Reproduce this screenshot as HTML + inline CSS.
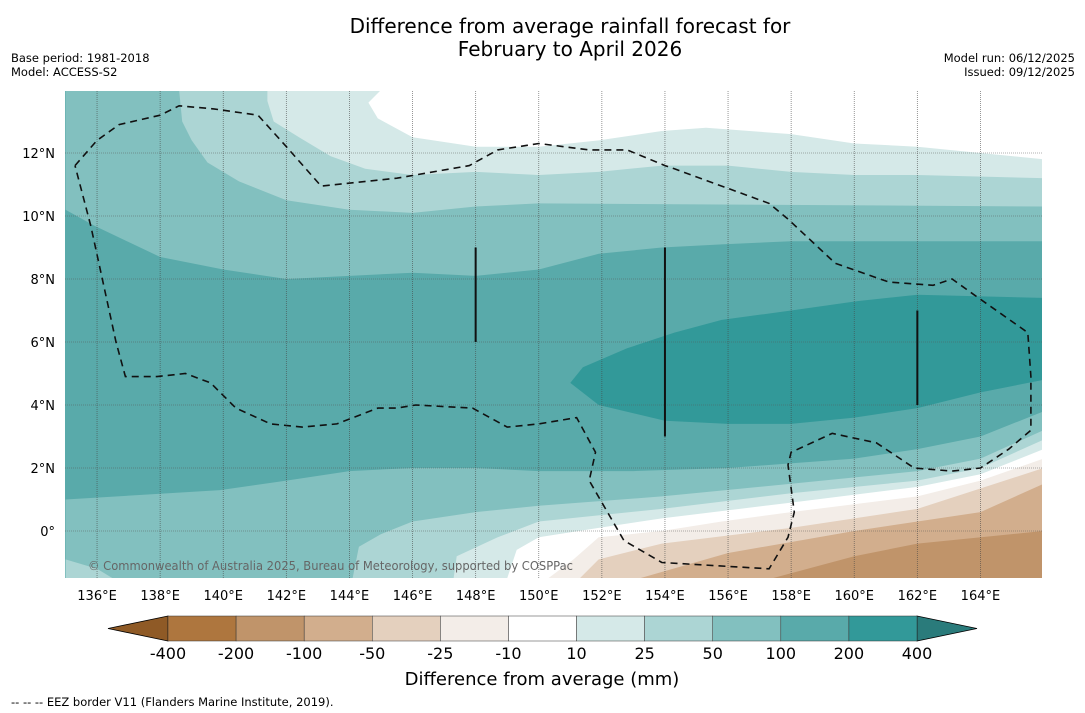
<!DOCTYPE html>
<html><head><meta charset="utf-8">
<style>
body{margin:0;background:#fff;font-family:"Liberation Sans","DejaVu Sans",sans-serif;}
#wrap{position:relative;width:1085px;height:713px;overflow:hidden;background:#fff;}
.t{position:absolute;white-space:nowrap;color:#000;}
</style></head>
<body>
<div id="wrap">
<div class="t" style="left:0;width:1140px;top:15px;text-align:center;font-family:'DejaVu Sans',sans-serif;font-size:20px;line-height:23px;">Difference from average rainfall forecast for<br>February to April 2026</div>
<div class="t" style="left:11px;top:51px;font-family:'DejaVu Sans',sans-serif;font-size:11.5px;line-height:14px;">Base period: 1981-2018<br>Model: ACCESS-S2</div>
<div class="t" style="right:10px;top:51px;text-align:right;font-family:'DejaVu Sans',sans-serif;font-size:11.5px;line-height:14px;">Model run: 06/12/2025<br>Issued: 09/12/2025</div>
<svg id="chart" width="1085" height="713" style="position:absolute;left:0;top:0"></svg>
<div class="t" style="left:11px;top:695px;font-family:'DejaVu Sans',sans-serif;font-size:11.5px;">--  --  -- EEZ border V11 (Flanders Marine Institute, 2019).</div>
</div>
<script>
// ---- data ----
const lonTicks=[136,138,140,142,144,146,148,150,152,154,156,158,160,162,164];
const latTicks=[0,2,4,6,8,10,12];
const latTickLabels=["0°","2°N","4°N","6°N","8°N","10°N","12°N"];
const cbLevels=["-400","-200","-100","-50","-25","-10","10","25","50","100","200","400"];
const cbColors=["#ae763e","#c0946a","#d2ae8d","#e4d0be","#f3ede8","#ffffff","#d5e9e8","#acd5d4","#82c0bf","#59aaaa","#329999"];
const baseColor="#59aaaa";
const north50=[[135,14],[135,10.2],[135.9,9.7],[138,8.7],[140,8.3],[142,8.0],[144,8.1],[146,8.2],[148,8.1],[150,8.3],[151.9,8.8],[153.9,9.0],[155.8,9.1],[158,9.2],[166,9.2],[166,14]];
const north25=[[138.6,14],[138.7,13.0],[139.0,12.4],[139.5,11.7],[140.5,11.1],[142,10.5],[144,10.2],[146,10.1],[148,10.3],[150,10.4],[166,10.3],[166,14]];
const north10=[[141.4,14],[141.4,13.65],[141.6,13.0],[142.4,12.5],[143.4,11.9],[144.5,11.5],[146,11.3],[148,11.4],[150,11.3],[151.9,11.4],[153.9,11.6],[156,11.6],[158,11.4],[160,11.3],[162,11.3],[166,11.2],[166,14]];
const northWhite=[[145,14],[144.6,13.6],[144.9,13.1],[146,12.5],[148,12.2],[150,12.2],[151.9,12.4],[153.9,12.7],[155.3,12.8],[158,12.6],[160,12.3],[162,12.2],[166,11.8],[166,14]];
const blob200=[[151.0,4.7],[151.4,5.2],[152.8,5.8],[154.3,6.3],[155.8,6.7],[158,7.0],[160.1,7.3],[162,7.5],[166,7.4],[166,4.8],[164,4.4],[162,3.9],[160,3.6],[158,3.4],[156,3.4],[154,3.5],[151.9,4.0]];
const south50=[[135,1.0],[139.9,1.3],[142,1.6],[144,1.9],[146,2.0],[148,2.0],[150,1.9],[153,1.9],[156,2.0],[160,2.3],[162,2.6],[164,3.0],[166,3.8],[166,-1.5],[135,-1.5]];
const south25=[[144.1,-1.5],[144.3,-0.5],[145.0,-0.1],[146,0.3],[148,0.6],[150,0.8],[153.9,1.1],[158,1.5],[162,1.9],[164,2.3],[166,3.2],[166,-1.5]];
const south25corner=[[135,-0.9],[136,-1.2],[136.5,-1.5],[135,-1.5]];
const south10=[[147.3,-1.5],[147.4,-0.8],[148.7,-0.2],[150,0.3],[153.9,0.7],[158,1.2],[162,1.6],[164,2.0],[166,2.9],[166,-1.5]];
const southWhite=[[149.0,-1.5],[149.3,-0.6],[150,-0.2],[151.9,0.1],[153.9,0.4],[158,0.9],[162,1.4],[164,1.8],[166,2.6],[166,-1.5]];
const southM10=[[150.3,-1.5],[151.1,-0.9],[151.9,-0.2],[153.9,0.0],[155.8,0.3],[158,0.6],[162,1.1],[164,1.6],[166,2.3],[166,-1.5]];
const southM25=[[151.3,-1.5],[151.9,-0.9],[153.9,-0.4],[158,0.1],[162,0.7],[166,2.0],[166,-1.5]];
const southM50=[[153.2,-1.5],[156,-0.7],[160,0.0],[164,0.6],[166,1.5],[166,-1.5]];
const southM100=[[157.4,-1.5],[160,-0.8],[162,-0.4],[166,0.0],[166,-1.5]];
const eez=[[135.3,11.6],[136,12.4],[136.7,12.9],[138,13.2],[138.6,13.5],[139.7,13.4],[141.1,13.2],[142,12.2],[143.1,10.95],[145.5,11.2],[147.8,11.6],[148.7,12.1],[150,12.3],[151.6,12.1],[152.8,12.1],[154,11.6],[154.3,11.5],[157.3,10.4],[157.9,9.9],[159.4,8.5],[161.1,7.9],[162.5,7.8],[163.1,8.0],[163.8,7.5],[165.5,6.3],[165.6,4.9],[165.6,3.2],[164.9,2.6],[164,2.0],[163.1,1.9],[161.9,2.0],[160.7,2.8],[159.3,3.1],[158,2.5],[157.9,2.1],[158.1,0.6],[157.9,-0.2],[157.3,-1.2],[153.9,-1.0],[152.7,-0.3],[151.6,1.6],[151.8,2.5],[151.2,3.6],[150,3.4],[149,3.3],[147.9,3.9],[146.1,4.0],[145.5,3.9],[144.9,3.9],[143.6,3.4],[142.5,3.3],[141.5,3.4],[140.4,3.9],[139.6,4.7],[138.8,5.0],[137.9,4.9],[136.9,4.9],[136.6,6.0],[135.8,9.7],[135.3,11.6]];
const trackLines=[[148,9,6],[154,9,3],[162,7,4]];
// ---- axes ----
const X0=65.5,LON0=135,PXD=31.55,Y0=531,PYD=31.5;
const LEFT=65,RIGHT=1042,TOP=91,BOTTOM=578;
function xs(lon){return X0+(lon-LON0)*PXD;}
function ys(lat){return Y0-lat*PYD;}
const NS="http://www.w3.org/2000/svg";
const svg=document.getElementById('chart');
function mk(tag,attrs,parent){const e=document.createElementNS(NS,tag);for(const k in attrs)e.setAttribute(k,attrs[k]);(parent||svg).appendChild(e);return e;}
const defs=mk('defs',{});
const cp=mk('clipPath',{id:'mapclip'},defs);
mk('rect',{x:LEFT,y:TOP,width:RIGHT-LEFT,height:BOTTOM-TOP},cp);
const g=mk('g',{'clip-path':'url(#mapclip)'});


const bg=mk('rect',{x:LEFT,y:TOP,width:RIGHT-LEFT,height:BOTTOM-TOP,fill:baseColor},g);


function poly(pts,fill,name){
  const d=pts.map((p,i)=>(i?'L':'M')+xs(p[0]).toFixed(1)+','+ys(p[1]).toFixed(1)).join('')+'Z';
  const e=mk('path',{d:d,fill:fill},g);
  
  
}
poly(north50,"#82c0bf","band-north-50-100");
poly(north25,"#acd5d4","band-north-25-50");
poly(north10,"#d5e9e8","band-north-10-25");
poly(northWhite,"#ffffff","band-north-neutral");
poly(blob200,"#329999","band-200-400");
poly(south50,"#82c0bf","band-south-50-100");
poly(south25,"#acd5d4","band-south-25-50");
poly(south25corner,"#acd5d4","band-south-25-50-corner");
poly(south10,"#d5e9e8","band-south-10-25");
poly(southWhite,"#ffffff","band-south-neutral");
poly(southM10,"#f3ede8","band-minus-10-25");
poly(southM25,"#e4d0be","band-minus-25-50");
poly(southM50,"#d2ae8d","band-minus-50-100");
poly(southM100,"#c0946a","band-minus-100-200");
// gridlines
lonTicks.forEach(l=>{
  const e=mk('line',{x1:xs(l),x2:xs(l),y1:TOP,y2:BOTTOM,stroke:'#444','stroke-width':0.8,'stroke-dasharray':'1,1','stroke-opacity':0.7},g);
  
  
});
latTicks.forEach(l=>{
  const e=mk('line',{x1:LEFT,x2:RIGHT,y1:ys(l),y2:ys(l),stroke:'#555','stroke-width':0.8,'stroke-dasharray':'1,1','stroke-opacity':0.6},g);
  
  
});
// track lines
trackLines.forEach(t=>{
  const e=mk('line',{x1:xs(t[0]),x2:xs(t[0]),y1:ys(t[1]),y2:ys(t[2]),stroke:'#111','stroke-width':2},g);
  
  
});
// eez
const ed=eez.map((p,i)=>(i?'L':'M')+xs(p[0]).toFixed(1)+','+ys(p[1]).toFixed(1)).join('');
const eezEl=mk('path',{d:ed,fill:'none',stroke:'#111','stroke-width':1.6,'stroke-dasharray':'7,5'},g);


// copyright
const cr=mk('text',{x:88,y:570,'font-size':12,fill:'#666','font-family':'DejaVu Sans, sans-serif',textLength:485,lengthAdjust:'spacingAndGlyphs'},g);
cr.textContent="© Commonwealth of Australia 2025, Bureau of Meteorology, supported by COSPPac";


// tick labels
lonTicks.forEach(l=>{
  const e=mk('text',{x:xs(l),y:600,'font-size':13,'text-anchor':'middle','font-family':'DejaVu Sans, sans-serif'});
  e.textContent=l+"°E";
  
  
});
latTicks.forEach((l,i)=>{
  const e=mk('text',{x:55,y:ys(l)+5,'font-size':13,'text-anchor':'end','font-family':'DejaVu Sans, sans-serif'});
  e.textContent=latTickLabels[i];
  
  
});
// colorbar
const CBL=168,CBR=917,CBT=616,CBB=641;
const bw=(CBR-CBL)/cbColors.length;
const lt=mk('polygon',{points:`${CBL},${CBT} 108,${(CBT+CBB)/2} ${CBL},${CBB}`,fill:'#8f5a26',stroke:'#000','stroke-width':0.8});


const rt=mk('polygon',{points:`${CBR},${CBT} 977,${(CBT+CBB)/2} ${CBR},${CBB}`,fill:'#2a7b7b',stroke:'#000','stroke-width':0.8});


cbColors.forEach((c,i)=>{
  const e=mk('rect',{x:CBL+i*bw,y:CBT,width:bw,height:CBB-CBT,fill:c,stroke:'#333','stroke-width':0.5});
  
  
});
cbLevels.forEach((s,i)=>{
  const e=mk('text',{x:CBL+i*bw,y:659,'font-size':16,'text-anchor':'middle','font-family':'DejaVu Sans, sans-serif'});
  e.textContent=s;
  
  
});
const cbt=mk('text',{x:542,y:685,'font-size':18,'text-anchor':'middle','font-family':'DejaVu Sans, sans-serif'});
cbt.textContent="Difference from average (mm)";


</script>
</body></html>
